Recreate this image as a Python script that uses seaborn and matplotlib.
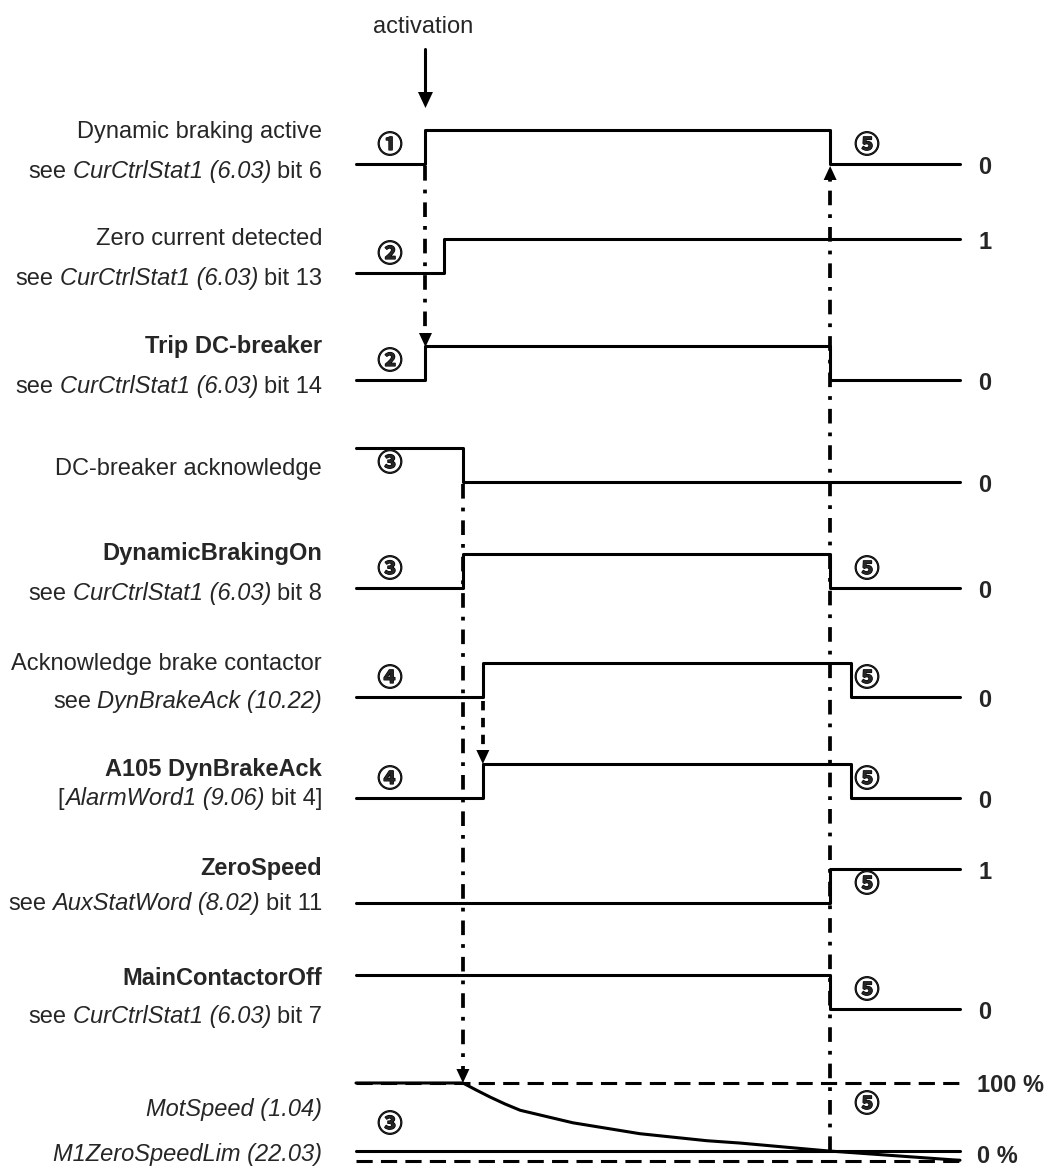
import numpy as np
import pandas as pd
import matplotlib
matplotlib.use("Agg")
import matplotlib.pyplot as plt
import matplotlib.patheffects as pe
import seaborn as sns
from matplotlib.patches import Polygon

# ---------------- data ----------------
T_ACT = 11.5     # activation of dynamic braking
T_ZC = 14.5      # zero current detected
T_ACK = 17.7     # DC-breaker acknowledge drops
T_BRAKE = 21.0   # brake contactor acknowledged
T_ZERO = 78.5    # zero speed reached
T_OFF = 82.0     # brake contactor released
T_END = 100.0

signal_times = [
    [0, T_ACT, T_ZERO, T_END],
    [0, T_ZC, T_END],
    [0, T_ACT, T_ZERO, T_END],
    [0, T_ACK, T_END],
    [0, T_ACK, T_ZERO, T_END],
    [0, T_BRAKE, T_OFF, T_END],
    [0, T_BRAKE, T_OFF, T_END],
    [0, T_ZERO, T_END],
    [0, T_ZERO, T_END],
]
signal_levels = [
    [0, 1, 0, 0],
    [0, 1, 1],
    [0, 1, 0, 0],
    [1, 0, 0],
    [0, 1, 0, 0],
    [0, 1, 0, 0],
    [0, 1, 0, 0],
    [0, 1, 1],
    [1, 0, 0],
]
final_labels = ["0", "1", "0", "0", "0", "0", "0", "1", "0"]

# label lines: (text, style, weight) parts
label_line1 = [
    [("Dynamic braking active", "normal", "normal")],
    [("Zero current detected", "normal", "normal")],
    [("Trip DC-breaker", "normal", "bold")],
    [("DC-breaker acknowledge", "normal", "normal")],
    [("DynamicBrakingOn", "normal", "bold")],
    [("Acknowledge brake contactor", "normal", "normal")],
    [("A105 DynBrakeAck", "normal", "bold")],
    [("ZeroSpeed", "normal", "bold")],
    [("MainContactorOff", "normal", "bold")],
]
label_line2 = [
    [("see", "normal", "normal"), ("CurCtrlStat1 (6.03)", "italic", "normal"), ("bit 6", "normal", "normal")],
    [("see", "normal", "normal"), ("CurCtrlStat1 (6.03)", "italic", "normal"), ("bit 13", "normal", "normal")],
    [("see", "normal", "normal"), ("CurCtrlStat1 (6.03)", "italic", "normal"), ("bit 14", "normal", "normal")],
    None,
    [("see", "normal", "normal"), ("CurCtrlStat1 (6.03)", "italic", "normal"), ("bit 8", "normal", "normal")],
    [("see", "normal", "normal"), ("DynBrakeAck (10.22)", "italic", "normal")],
    [("[", "normal", "normal"), ("AlarmWord1 (9.06)", "italic", "normal"), ("bit 4]", "normal", "normal")],
    [("see", "normal", "normal"), ("AuxStatWord (8.02)", "italic", "normal"), ("bit 11", "normal", "normal")],
    [("see", "normal", "normal"), ("CurCtrlStat1 (6.03)", "italic", "normal"), ("bit 7", "normal", "normal")],
]
step_left = ["①", "②", "②", "③", "③", "④", "④", None, None]
step_right = ["⑤", None, None, None, "⑤", "⑤", "⑤", "⑤", "⑤"]

speed_t = [0, T_ACK, 19.9, 22.2, 24.7, 27.2, 35.9, 47.0, 58.1, 63.6, 78.0, 98.8, 100]
speed_pct = [100, 100, 91, 82, 73, 65, 49, 35, 26, 23, 13, 1.5, 1.0]
zero_speed_lim_pct = 13

# ---------------- layout ----------------
W, H = 1045, 1169
X0_PX, X1_PX = 356, 960
PXT = (X1_PX - X0_PX) / T_END
row_low = [164, 273, 380, 482, 588, 697, 798, 903, 1009]
AMP = 34
line1_y = [130, 237, 345, 467, 552, 662, 768, 867, 977]
line2_y = [170, 277, 385, None, 592, 700, 797, 902, 1015]
LABEL_X = 322
SPD100, SPD0 = 1083, 1161
FS = 17
LW = 2.2
LW_DD = 2.7

sns.set_style("white")
plt.rcParams["font.family"] = ["Liberation Sans", "DejaVu Sans"]

fig = plt.figure(figsize=(W / 100, H / 100), dpi=100)
ax = fig.add_axes([0, 0, 1, 1])
ax.set_xlim(-X0_PX / PXT, (W - X0_PX) / PXT)
ax.set_ylim(H, 0)
ax.axis("off")
axp = fig.add_axes([0, 0, 1, 1], zorder=3)
axp.set_xlim(0, W)
axp.set_ylim(H, 0)
axp.axis("off")
axp.patch.set_alpha(0)
renderer = fig.canvas.get_renderer()


def t2px(t):
    return X0_PX + t * PXT


def spd_y(p):
    return SPD0 - p / 100.0 * (SPD0 - SPD100)


# ---- signals ----
for i, (ts, lv) in enumerate(zip(signal_times, signal_levels)):
    df = pd.DataFrame({"t": ts, "y": [row_low[i] - AMP * v for v in lv]})
    sns.lineplot(data=df, x="t", y="y", ax=ax, color="black", lw=LW,
                 drawstyle="steps-post", estimator=None, sort=False, legend=False)
    endy = row_low[i] - AMP * lv[-1]
    axp.text(978, endy + 10, final_labels[i], fontsize=FS, weight="bold", ha="left", va="baseline")

# ---- speed ----
df = pd.DataFrame({"t": speed_t, "y": [spd_y(p) for p in speed_pct]})
sns.lineplot(data=df, x="t", y="y", ax=ax, color="black", lw=LW, estimator=None, sort=False, legend=False)
ax.plot([0, T_END], [spd_y(zero_speed_lim_pct)] * 2, color="black", lw=LW)
ax.plot([0, T_END], [spd_y(100)] * 2, color="black", lw=LW, dashes=(5.3, 2.7))
ax.plot([0, T_END], [spd_y(0)] * 2, color="black", lw=LW, dashes=(5.3, 2.7))
axp.text(977, spd_y(100) + 9, "100 %", fontsize=FS, weight="bold", ha="left", va="baseline")
axp.text(977, H - 1, "0 %", fontsize=FS, weight="bold", ha="left", va="bottom")


# ---- arrows ----
def head(t, ytip, down=True, w=13, h=14):
    hw = w / 2 / PXT
    yb = ytip - h if down else ytip + h
    ax.add_patch(Polygon([(t - hw, yb), (t + hw, yb), (t, ytip)], closed=True,
                         color="black", lw=0, zorder=4))
    return yb


DD = (3.9, 2.4, 1, 2.4)
yb = head(T_ACT, 347)
ax.plot([T_ACT, T_ACT], [row_low[0] + 2, yb], color="black", lw=LW_DD, dashes=DD)
yb = head(T_ACK, spd_y(100))
ax.plot([T_ACK, T_ACK], [row_low[3] + 2, yb], color="black", lw=LW_DD, dashes=DD)
yb = head(T_ZERO, row_low[0] + 2, down=False)
ax.plot([T_ZERO, T_ZERO], [spd_y(zero_speed_lim_pct), yb], color="black", lw=LW_DD, dashes=DD)
yb = head(T_BRAKE, row_low[6] - AMP)
ax.plot([T_BRAKE, T_BRAKE], [row_low[5] + 4, yb], color="black", lw=LW_DD, dashes=(2.5, 2))

# activation arrow
yb = head(T_ACT, 108, w=15, h=16)
ax.plot([T_ACT, T_ACT], [49, yb + 1], color="black", lw=LW)
axp.text(t2px(T_ACT) - 2, 27, "activation", fontsize=FS, ha="center", va="center")


# ---- labels ----
def rich(x_right, y_base, parts):
    x = x_right
    for s, st, wt in reversed(parts):
        t = axp.text(x, y_base, s, fontsize=FS, style=st, weight=wt, ha="right", va="baseline")
        x -= t.get_window_extent(renderer).width
        # gap before the next part to the left
        x -= 1 if parts[0][0] == "[" and s != "bit 4]" else 6


for i in range(9):
    rich(LABEL_X, line1_y[i] + 8, label_line1[i])
    if label_line2[i] is not None:
        rich(LABEL_X, line2_y[i] + 8, label_line2[i])

axp.text(LABEL_X, 1108 + 8, "MotSpeed (1.04)", fontsize=FS, style="italic", ha="right", va="baseline")
axp.text(LABEL_X, 1153 + 8, "M1ZeroSpeedLim (22.03)", fontsize=FS, style="italic", ha="right", va="baseline")

# ---- step numbers ----
CFONT = ["Noto Sans CJK JP", "DejaVu Sans"]
PE = [pe.withStroke(linewidth=0.9, foreground="black")]


def step(x, y, s):
    axp.text(x, y, s, fontsize=18, weight="bold", family=CFONT, ha="center", va="center",
             path_effects=PE)


for i in range(9):
    if step_left[i]:
        step(390, row_low[i] - 18, step_left[i])
    if step_right[i]:
        step(867, row_low[i] - 18, step_right[i])
step(390, 1125, "③")
step(867, 1105, "⑤")

fig.savefig("out.png", dpi=100)
